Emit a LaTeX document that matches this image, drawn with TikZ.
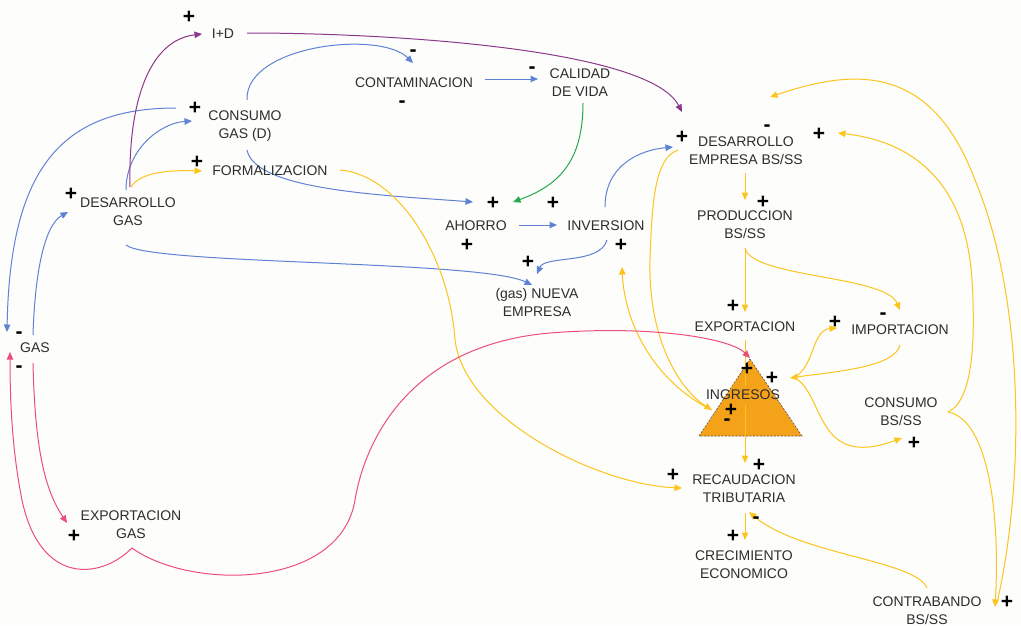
\documentclass[tikz,border=0pt]{standalone}
\usepackage{fontspec}
\setmainfont{Liberation Sans}
\usetikzlibrary{arrows.meta}
\definecolor{txtc}{RGB}{45,45,45}
\definecolor{bluc}{RGB}{96,130,212}
\definecolor{purc}{RGB}{140,56,140}
\definecolor{grnc}{RGB}{36,168,78}
\definecolor{yelc}{RGB}{252,196,28}
\definecolor{pnkc}{RGB}{236,78,122}
\definecolor{orac}{RGB}{245,162,27}
\definecolor{bgc}{RGB}{253,253,251}
\pgfdeclarelayer{back}
\pgfdeclarelayer{links}
\pgfsetlayers{back,links,main}
\begin{document}
\begin{tikzpicture}[x=1pt,y=-1pt,
  var/.style={font=\fontsize{14}{18}\selectfont, text=txtc, align=center, inner sep=0pt},
  sgn/.style={font=\fontsize{21}{21}\selectfont\bfseries, inner sep=0pt},
  lnk/.style={line width=1pt, -{Triangle[length=7.5pt,width=6.5pt]}},
  blu/.style={lnk, draw=bluc},
  pur/.style={lnk, draw=purc},
  grn/.style={lnk, draw=grnc},
  yel/.style={lnk, draw=yelc},
  pnk/.style={lnk, draw=pnkc}]
\useasboundingbox (0,0) rectangle (1021,625);
\begin{pgfonlayer}{back}
\fill[bgc] (0,0) rectangle (1021,625);
\filldraw[fill=orac, draw=txtc!80, dash pattern=on 2pt off 1.5pt, line width=0.6pt] (750,359) -- (802,436) -- (699,436) -- cycle;
\end{pgfonlayer}
\node[var] (idd) at (223,34) {I+D};
\node[var] (consgas) at (245,126) {CONSUMO\\GAS (D)};
\node[var] (formal) at (270,171) {FORMALIZACION};
\node[var] (desgas) at (128,212) {DESARROLLO\\GAS};
\node[var] (contam) at (414,83) {CONTAMINACION};
\node[var] (calidad) at (580,83) {CALIDAD\\DE VIDA};
\node[var] (ahorro) at (476,226) {AHORRO};
\node[var] (inver) at (606,226) {INVERSION};
\node[var] (nueva) at (537,302) {(gas) NUEVA\\EMPRESA};
\node[var] (desemp) at (746,151) {DESARROLLO\\EMPRESA BS/SS};
\node[var] (prod) at (745,225) {PRODUCCION\\BS/SS};
\node[var] (expo) at (745,327) {EXPORTACION};
\node[var] (impo) at (900,330) {IMPORTACION};
\node[var] (ingr) at (743,395) {INGRESOS};
\node[var] (consbs) at (901,412) {CONSUMO\\BS/SS};
\node[var] (recaud) at (744,489) {RECAUDACION\\TRIBUTARIA};
\node[var] (crec) at (744,565) {CRECIMIENTO\\ECONOMICO};
\node[var] (contra) at (927,611) {CONTRABANDO\\BS/SS};
\node[var] (gas) at (35,348) {GAS};
\node[var] (expgas) at (131,525) {EXPORTACION\\GAS};
\node[sgn] (s1) at (189,17) {+};
\node[sgn] (s2) at (195,108) {+};
\node[sgn] (s3) at (197,162) {+};
\node[sgn] (s4) at (71,194) {+};
\node[sgn] (s5) at (413,53) {-};
\node[sgn] (s6) at (402,104) {-};
\node[sgn] (s7) at (532,70) {-};
\node[sgn] (s8) at (493,203) {+};
\node[sgn] (s9) at (553,203) {+};
\node[sgn] (s10) at (467,245) {+};
\node[sgn] (s11) at (621,245) {+};
\node[sgn] (s12) at (682,137) {+};
\node[sgn] (s13) at (767,128) {-};
\node[sgn] (s14) at (819,134) {+};
\node[sgn] (s15) at (763,202) {+};
\node[sgn] (s16) at (733,306) {+};
\node[sgn] (s17) at (528,262) {+};
\node[sgn] (s18) at (673,475) {+};
\node[sgn] (s19) at (883,316) {-};
\node[sgn] (s20) at (835,322) {+};
\node[sgn] (s21) at (747,369) {+};
\node[sgn] (s22) at (772,378) {+};
\node[sgn] (s23) at (731,410) {+};
\node[sgn] (s24) at (727,422) {-};
\node[sgn] (s25) at (914,443) {+};
\node[sgn] (s26) at (759,465) {+};
\node[sgn] (s27) at (756,520) {-};
\node[sgn] (s28) at (733,536) {+};
\node[sgn] (s29) at (1007,602) {+};
\node[sgn] (s30) at (19,335) {-};
\node[sgn] (s31) at (19,369) {-};
\node[sgn] (s32) at (74,536) {+};
\begin{pgfonlayer}{links}
\draw[blu] ([shift={(-2,-22)}]desgas.center) .. controls (126,150) and (160,123) .. ([shift={(-53,-5)}]consgas.center);
\draw[blu] ([shift={(-69,-18)}]consgas.center) .. controls (60,108) and (10,170) .. ([shift={(-28,-16)}]gas.center);
\draw[blu] ([shift={(-2,-13)}]gas.center) .. controls (35,270) and (45,225) .. ([shift={(-60,0)}]desgas.center);
\draw[blu] ([shift={(2,-26)}]consgas.center) .. controls (245,45) and (380,30) .. ([shift={(-1,-20)}]contam.center);
\draw[blu] ([shift={(2,24)}]consgas.center) .. controls (255,190) and (380,195) .. ([shift={(-3,-24)}]ahorro.center);
\draw[blu] ([shift={(71,-4)}]contam.center) -- ([shift={(-42,-4)}]calidad.center);
\draw[blu] ([shift={(43,-1)}]ahorro.center) -- ([shift={(-49,-1)}]inver.center);
\draw[blu] ([shift={(-1,-19)}]inver.center) .. controls (605,165) and (640,150) .. ([shift={(-73,-4)}]desemp.center);
\draw[blu] ([shift={(1,14)}]inver.center) .. controls (600,265) and (545,255) .. ([shift={(0,-28)}]nueva.center);
\draw[blu] ([shift={(-2,33)}]desgas.center) .. controls (150,265) and (480,260) .. ([shift={(-5,-17)}]nueva.center);
\draw[pur] ([shift={(2,-25)}]desgas.center) .. controls (128,100) and (150,40) .. ([shift={(-21,0)}]idd.center);
\draw[pur] ([shift={(24,-1)}]idd.center) .. controls (400,33) and (650,50) .. ([shift={(-64,-39)}]desemp.center);
\draw[grn] ([shift={(3,20)}]calidad.center) .. controls (583,160) and (560,185) .. ([shift={(37,-24)}]ahorro.center);
\draw[yel] ([shift={(3,-25)}]desgas.center) .. controls (140,172) and (170,170) .. ([shift={(-68,0)}]formal.center);
\draw[yel] ([shift={(70,-1)}]formal.center) .. controls (400,175) and (450,260) .. (455,340) .. controls (465,420) and (600,485) .. ([shift={(-62,-1)}]recaud.center);
\draw[yel] ([shift={(-1,22)}]desemp.center) -- ([shift={(0,-25)}]prod.center);
\draw[yel] ([shift={(0,23)}]prod.center) -- ([shift={(0,-15)}]expo.center);
\draw[yel] ([shift={(0,23)}]prod.center) .. controls (752,278) and (885,275) .. ([shift={(0,-20)}]impo.center);
\draw[yel, -] ([shift={(0,13)}]expo.center) -- ([shift={(2,-9)}]ingr.center);
\draw[yel] ([shift={(0,15)}]impo.center) .. controls (895,368) and (830,372) .. ([shift={(47,-17)}]ingr.center);
\draw[yel] ([shift={(52,-18)}]ingr.center) .. controls (815,365) and (812,330) .. ([shift={(-63,-2)}]impo.center);
\draw[yel] ([shift={(52,-17)}]ingr.center) .. controls (825,395) and (815,470) .. ([shift={(1,26)}]consbs.center);
\draw[yel] ([shift={(-68,-1)}]desemp.center) .. controls (655,158) and (652,200) .. (650,260) .. controls (648,340) and (680,390) .. ([shift={(-31,15)}]ingr.center);
\draw[yel] ([shift={(-31,15)}]ingr.center) .. controls (660,385) and (625,330) .. ([shift={(16,41)}]inver.center);
\draw[yel] ([shift={(2,10)}]ingr.center) -- ([shift={(1,-26)}]recaud.center);
\draw[yel] ([shift={(1,24)}]recaud.center) -- ([shift={(1,-25)}]crec.center);
\draw[yel] ([shift={(0,-23)}]contra.center) .. controls (915,560) and (800,555) .. ([shift={(5,23)}]recaud.center);
\draw[yel] ([shift={(47,0)}]consbs.center) .. controls (975,400) and (975,330) .. (972,280) .. controls (965,170) and (900,140) .. ([shift={(92,-18)}]desemp.center);
\draw[yel] ([shift={(47,0)}]consbs.center) .. controls (990,420) and (1000,520) .. ([shift={(68,-4)}]contra.center);
\draw[yel] ([shift={(70,-8)}]contra.center) .. controls (1025,480) and (1025,300) .. (975,180) .. controls (930,60) and (850,70) .. ([shift={(24,-54)}]desemp.center);
\draw[pnk] ([shift={(-2,15)}]gas.center) .. controls (35,450) and (45,490) .. ([shift={(-64,-2)}]expgas.center);
\draw[pnk] ([shift={(1,23)}]expgas.center) .. controls (100,580) and (40,585) .. (22,500) .. controls (12,450) and (10,400) .. ([shift={(-25,4)}]gas.center);
\draw[pnk] ([shift={(1,23)}]expgas.center) .. controls (190,590) and (340,590) .. (355,500) .. controls (365,440) and (410,345) .. (550,333) .. controls (650,325) and (730,338) .. ([shift={(7,-37)}]ingr.center);
\end{pgfonlayer}
\end{tikzpicture}
\end{document}
